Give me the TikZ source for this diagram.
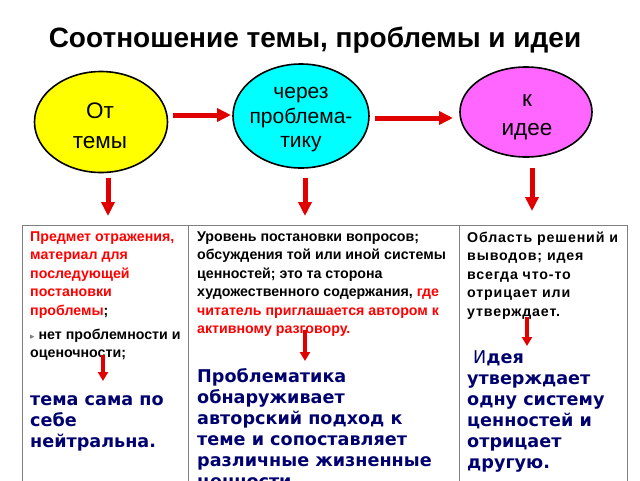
\documentclass[tikz,border=0pt]{standalone}
\usepackage{fontspec}
\setmainfont{Liberation Sans}
\newfontfamily\verd{DejaVu Sans}
\newfontfamily\widesans[LetterSpace=6]{Liberation Sans}
\usetikzlibrary{arrows.meta,shapes.geometric}
\definecolor{yel}{RGB}{255,255,0}
\definecolor{cya}{RGB}{0,255,255}
\definecolor{mag}{RGB}{255,102,255}
\definecolor{arr}{RGB}{224,0,0}
\definecolor{navy}{RGB}{0,0,110}
\definecolor{gridc}{RGB}{128,128,128}
\begin{document}
\begin{tikzpicture}[x=1pt,y=-1pt,
  bubble/.style={ellipse, draw=black, line width=1.6pt, inner sep=0pt},
  btext/.style={align=center, inner sep=0pt, font=\fontsize{22.5}{30}\selectfont},
  bigarrow/.style={draw=arr, line width=5pt, -{Triangle[length=14pt,width=13pt]}},
  smallarrow/.style={draw=arr, line width=3.5pt, -{Triangle[length=9pt,width=10pt]}},
  cell/.style={anchor=north west, inner sep=0pt, align=left, font=\bfseries\fontsize{14.2}{18.5}\selectfont},
  bluetext/.style={anchor=north west, inner sep=0pt, align=left, text=navy, font=\verd\bfseries\fontsize{17.6}{21}\selectfont},
  gridline/.style={draw=gridc, line width=1pt}]
\useasboundingbox (0,0) rectangle (640,480);
\clip (0,0) rectangle (640,480);
\fill[white] (0,0) rectangle (640,480);

\node[font=\bfseries\fontsize{28}{32}\selectfont, inner sep=0pt] (title) at (315,40) {Соотношение темы, проблемы и идеи};

\node[bubble, fill=yel, minimum width=133pt, minimum height=101pt] (yel) at (101,122) {};
\node[btext] (yelt) at (100,126) {От\\темы};
\node[bubble, fill=cya, minimum width=136pt, minimum height=104pt] (cya) at (301,116) {};
\node[btext, font=\fontsize{21}{24.5}\selectfont] (cyat) at (301,120) {через\\проблема-\\тику};
\node[bubble, fill=mag, minimum width=132pt, minimum height=90pt] (mag) at (526,112) {};
\node[btext, font=\fontsize{22.5}{29}\selectfont] (magt) at (527,117) {к\\идее};

\coordinate (h1s) at (173,115);
\coordinate (h1e) at (231,115);
\coordinate (h2s) at (375,118);
\coordinate (h2e) at (453,118);
\coordinate (v1s) at (108,178);
\coordinate (v1e) at (108,216);
\coordinate (v2s) at (305,178);
\coordinate (v2e) at (305,216);
\coordinate (v3s) at (532,168);
\coordinate (v3e) at (532,211);
\draw[bigarrow] (h1s) -- (h1e);
\draw[bigarrow] (h2s) -- (h2e);
\draw[bigarrow] (v1s) -- (v1e);
\draw[bigarrow] (v2s) -- (v2e);
\draw[bigarrow] (v3s) -- (v3e);

\draw[gridline] (22,225) rectangle (627,500);
\draw[gridline] (188,225) -- (188,500);
\draw[gridline] (459,225) -- (459,500);

\node[cell] (c1a) at (30,231.5) {\color{red}Предмет отражения,\\\color{red}материал для\\\color{red}последующей\\\color{red}постановки\\\color{red}проблемы\color{black};};
\node[cell] (c1b) at (30,328.5) {{\verd\mdseries\color{gridc}\fontsize{9}{9}\selectfont ▸} нет проблемности и\\оценочности;};
\node[bluetext] (c1c) at (30,395) {тема сама по\\себе\\нейтральна.};

\node[cell] (c2a) at (197,231.5) {Уровень постановки вопросов;\\обсуждения той или иной системы\\ценностей; это та сторона\\художественного содержания, \color{red}где\\\color{red}читатель приглашается автором к\\\color{red}активному разговору.};
\node[bluetext] (c2b) at (197,368.5) {Проблематика\\обнаруживает\\авторский подход к\\теме и сопоставляет\\различные жизненные\\ценности.};

\node[cell, font=\widesans\bfseries\fontsize{14.2}{18.5}\selectfont] (c3a) at (467,231.5) {Область решений и\\выводов; идея\\всегда что-то\\отрицает или\\утверждает.};
\node[bluetext] (c3b) at (467,350) {\hspace{6pt}{\mdseries И}дея\\утверждает\\одну систему\\ценностей и\\отрицает\\другую.};

\coordinate (s1s) at (103,355);
\coordinate (s1e) at (103,381);
\coordinate (s2s) at (305,330);
\coordinate (s2e) at (305,361);
\coordinate (s3s) at (527,317);
\coordinate (s3e) at (527,346);
\draw[smallarrow] (s1s) -- (s1e);
\draw[smallarrow] (s2s) -- (s2e);
\draw[smallarrow] (s3s) -- (s3e);
\end{tikzpicture}
\end{document}
